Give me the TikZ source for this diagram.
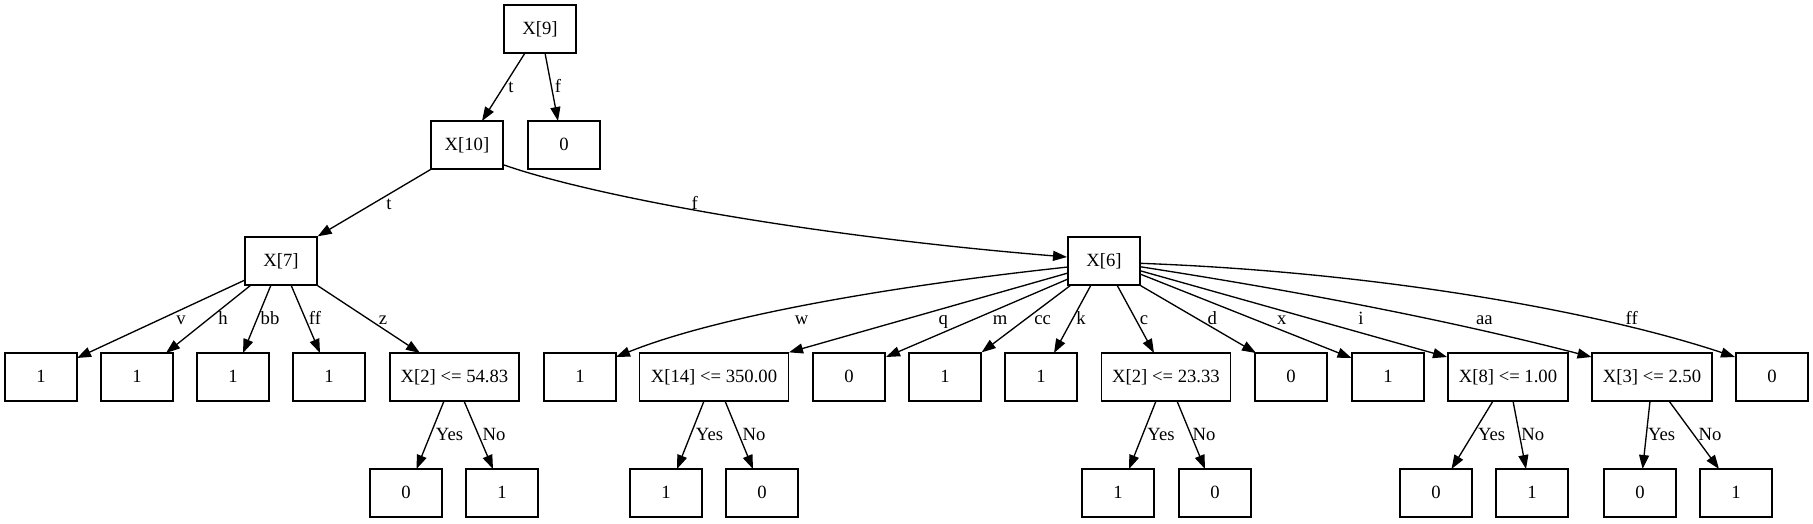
\documentclass[tikz,border=0pt]{standalone}
\usepackage{fontspec}
\setmainfont{Liberation Serif}
\usetikzlibrary{arrows.meta,calc}
\begin{document}
\begin{tikzpicture}[x=0.75bp,y=-0.75bp,
  box/.style={draw, line width=1bp, minimum width=54bp, minimum height=36bp,
    inner sep=0pt, text height=10bp, text depth=2bp,
    font=\fontsize{14.05pt}{16pt}\selectfont},
  lab/.style={inner sep=0pt, text height=10bp, text depth=2bp,
    font=\fontsize{14.05pt}{16pt}\selectfont},
  edge/.style={draw, line width=1bp, -{Triangle[length=10.5bp,width=7.5bp]}}]
\useasboundingbox (0,0) rectangle (1813,523);
% level 0-2
\node[box] (X9) at (540,29) {X[9]};
\node[box] (X10) at (467,145) {X[10]};
\node[box] (r0) at (564,145) {0};
\node[box] (X7) at (281,261) {X[7]};
\node[box] (X6) at (1104,261) {X[6]};
% level 3
\node[box] (a1) at (41,377) {1};
\node[box] (a2) at (137,377) {1};
\node[box] (a3) at (233,377) {1};
\node[box] (a4) at (329,377) {1};
\node[box, minimum width=96.75bp] (s1) at (454.5,377) {X[2] <= 54.83};
\node[box] (b1) at (580,377) {1};
\node[box, minimum width=111.5bp] (s2) at (714,377) {X[14] <= 350.00};
\node[box] (b3) at (849,377) {0};
\node[box] (b4) at (945,377) {1};
\node[box] (b5) at (1041,377) {1};
\node[box, minimum width=97bp] (s3) at (1166,377) {X[2] <= 23.33};
\node[box] (b7) at (1291,377) {0};
\node[box] (b8) at (1388,377) {1};
\node[box, minimum width=90bp] (s4) at (1508,377) {X[8] <= 1.00};
\node[box, minimum width=90bp] (s5) at (1652,377) {X[3] <= 2.50};
\node[box] (b11) at (1772,377) {0};
% level 4
\node[box] (c1) at (406,493) {0};
\node[box] (c2) at (502,493) {1};
\node[box] (c3) at (666,493) {1};
\node[box] (c4) at (762,493) {0};
\node[box] (c5) at (1118,493) {1};
\node[box] (c6) at (1215,493) {0};
\node[box] (c7) at (1436,493) {0};
\node[box] (c8) at (1532,493) {1};
\node[box] (c9) at (1640,493) {0};
\node[box] (c10) at (1736,493) {1};
% edges top
\draw[edge] ($(X9)+(-15,24)$) -- ($(X10)+(15,-24)$);
\draw[edge] ($(X9)+(5,24)$) -- ($(r0)+(-6,-24)$);
\draw[edge] (X10.south west) -- (X7.north east);
\draw[edge] ($(X10)+(37,20)$) .. controls (590,195) and (800,235) .. ($(X6)+(-37,-4)$);
% X7 children
\draw[edge] ($(X7)+(-36,19)$) -- ($(a1)+(36,-19)$);
\draw[edge] ($(X7)+(-30,24)$) -- ($(a2)+(29,-24)$);
\draw[edge] ($(X7)+(-10,24)$) -- ($(a3)+(10,-24)$);
\draw[edge] ($(X7)+(10,24)$) -- ($(a4)+(-9,-24)$);
\draw[edge] (X7.south east) -- ($(s1)+(-34.5,-24)$);
% X6 children
\draw[edge] ($(X6)+(-36,6)$) .. controls (900,285) and (720,315) .. ($(b1)+(36,-20)$);
\draw[edge] ($(X6)+(-36,12)$) -- (s2.north east);
\draw[edge] ($(X6)+(-36,18)$) -- ($(b3)+(37,-20)$);
\draw[edge] ($(X6)+(-33,24)$) -- (b4.north east);
\draw[edge] ($(X6)+(-13,24)$) -- ($(b5)+(13,-24)$);
\draw[edge] ($(X6)+(13,24)$) -- ($(s3)+(-12,-24)$);
\draw[edge] (X6.south east) -- ($(b7)+(-35,-24)$);
\draw[edge] ($(X6)+(36,13)$) -- ($(b8)+(-36.5,-19)$);
\draw[edge] ($(X6)+(36,9.7)$) -- ($(s4)+(-61,-20)$);
\draw[edge] ($(X6)+(36,5.7)$) .. controls (1290,290) and (1440,318) .. ($(s5)+(-60.5,-20)$);
\draw[edge] ($(X6)+(36,2.3)$) .. controls (1380,272) and (1600,312) .. ($(b11)+(-37,-20)$);
% level 3 -> 4
\draw[edge] ($(s1)+(-10.5,24)$) -- ($(c1)+(10.5,-24)$);
\draw[edge] ($(s1)+(9.5,24)$) -- ($(c2)+(-9,-24)$);
\draw[edge] ($(s2)+(-10,24)$) -- ($(c3)+(11,-24)$);
\draw[edge] ($(s2)+(11,24)$) -- ($(c4)+(-9,-24)$);
\draw[edge] ($(s3)+(-10,24)$) -- ($(c5)+(11,-24)$);
\draw[edge] ($(s3)+(11,24)$) -- ($(c6)+(-10,-24)$);
\draw[edge] ($(s4)+(-15,24)$) -- ($(c7)+(15.5,-24)$);
\draw[edge] ($(s4)+(5,24)$) -- ($(c8)+(-6,-24)$);
\draw[edge] ($(s5)+(-2,24)$) -- ($(c9)+(2.6,-24)$);
\draw[edge] ($(s5)+(17,24)$) -- ($(c10)+(-17,-24)$);
% labels
\node[lab] (l1) at (511,87.4) {t};
\node[lab] (l2) at (558,87.4) {f};
\node[lab] (l3) at (389,204) {t};
\node[lab] (l4) at (694.7,204) {f};
\node[lab] (l5) at (181,319.5) {v};
\node[lab] (l6) at (223,319.5) {h};
\node[lab] (l7) at (270,319.5) {bb};
\node[lab] (l8) at (315,319.5) {ff};
\node[lab] (l9) at (383,319.5) {z};
\node[lab] (l10) at (801.7,319.5) {w};
\node[lab] (l11) at (943.3,319.5) {q};
\node[lab] (l12) at (1000,319.5) {m};
\node[lab] (l13) at (1042.7,319.5) {cc};
\node[lab] (l14) at (1081,319.5) {k};
\node[lab] (l15) at (1144,319.5) {c};
\node[lab] (l16) at (1212.3,319.5) {d};
\node[lab] (l17) at (1281.7,319.5) {x};
\node[lab] (l18) at (1361,319.5) {i};
\node[lab] (l19) at (1484.3,319.5) {aa};
\node[lab] (l20) at (1631.7,319.5) {ff};
\node[lab] (l21) at (449.5,435.3) {Yes};
\node[lab] (l22) at (494,435.3) {No};
\node[lab] (l23) at (709.5,435.3) {Yes};
\node[lab] (l24) at (754,435.3) {No};
\node[lab] (l25) at (1161,435.3) {Yes};
\node[lab] (l26) at (1204,435.3) {No};
\node[lab] (l27) at (1491.6,435.3) {Yes};
\node[lab] (l28) at (1532.7,435.3) {No};
\node[lab] (l29) at (1661.6,435.3) {Yes};
\node[lab] (l30) at (1710,435.3) {No};
\end{tikzpicture}
\end{document}
